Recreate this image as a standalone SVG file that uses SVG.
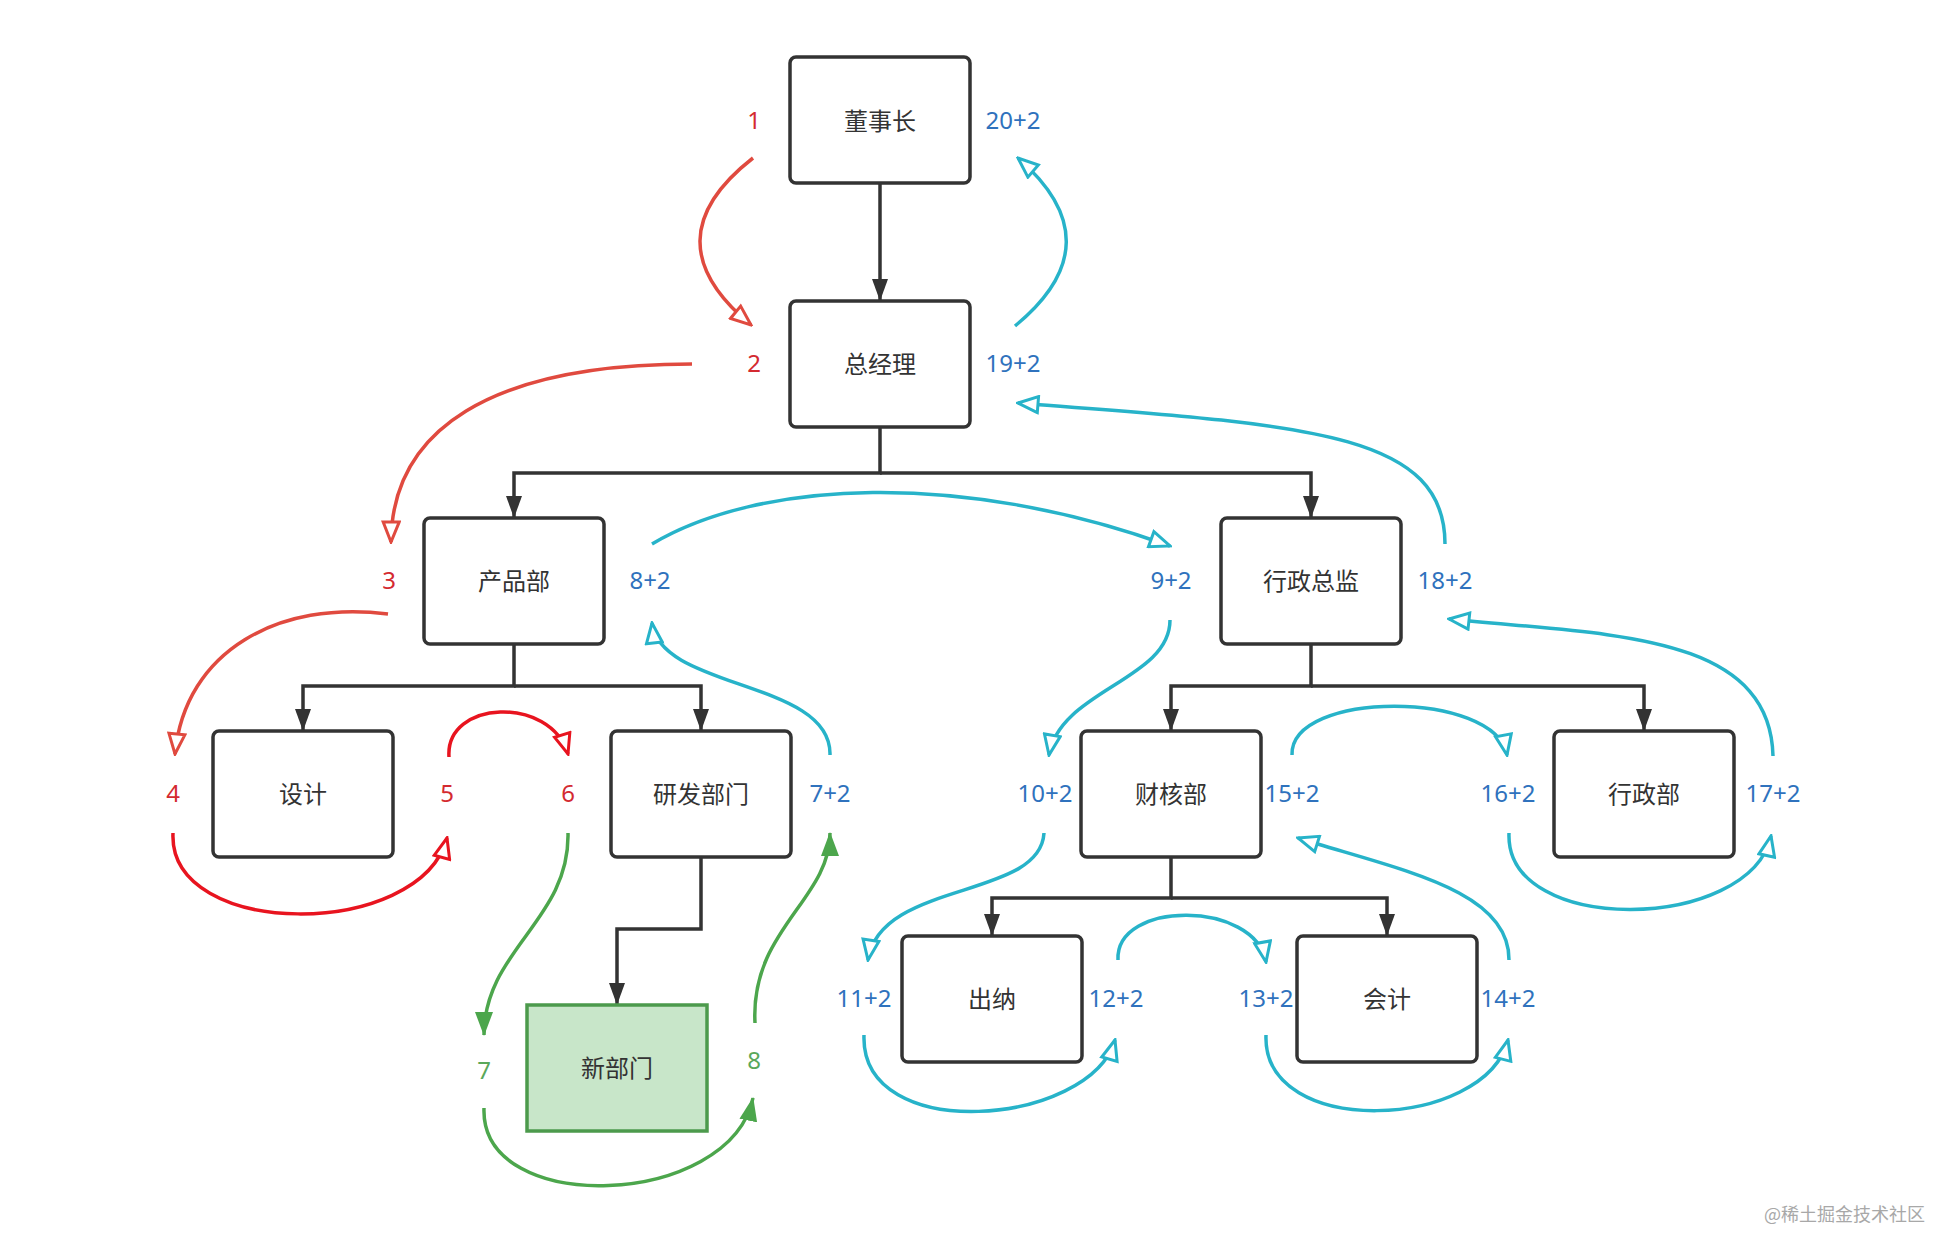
<svg xmlns="http://www.w3.org/2000/svg" width="1956" height="1258" viewBox="0 0 1956 1258">
<style>
.box{fill:#fff;stroke:#333;stroke-width:3.5;}
.newbox{fill:#c8e6c9;stroke:#4c9a4c;stroke-width:3.5;}
.nt{font-family:"Noto Sans CJK SC","Noto Sans",sans-serif;font-size:24px;fill:#333;text-anchor:middle;dominant-baseline:central;}
.lb{font-family:"Noto Sans","Noto Sans CJK SC",sans-serif;font-size:24px;text-anchor:middle;dominant-baseline:central;}
.red{fill:#d42a30;}
.blue{fill:#2f72bd;}
.green{fill:#5aa85a;}
.tree{fill:none;stroke:#333;stroke-width:3.5;marker-end:url(#mBlack);}
.cr{fill:none;stroke:#e04a3f;stroke-width:3.5;marker-end:url(#mRed);}
.cr2{fill:none;stroke:#e8141f;stroke-width:3.5;marker-end:url(#mRed2);}
.cc{fill:none;stroke:#27b3c9;stroke-width:3.5;marker-end:url(#mCyan);}
.cg{fill:none;stroke:#4ca64c;stroke-width:3.5;marker-end:url(#mGreen);}
.wm{font-family:"Noto Sans CJK SC",sans-serif;font-size:18px;fill:#a8a8a8;text-anchor:end;}
</style>
<defs>
<marker id="mBlack" viewBox="0 0 22 18" refX="21" refY="9" markerWidth="22" markerHeight="18" markerUnits="userSpaceOnUse" orient="auto"><path d="M0,1 L22,9 L0,17 z" fill="#333"/></marker>
<marker id="mRed" viewBox="0 0 24 20" refX="22" refY="10" markerWidth="24" markerHeight="20" markerUnits="userSpaceOnUse" orient="auto"><path d="M2,2 L22,10 L2,18 z" fill="#fff" stroke="#e04a3f" stroke-width="3"/></marker>
<marker id="mRed2" viewBox="0 0 24 20" refX="22" refY="10" markerWidth="24" markerHeight="20" markerUnits="userSpaceOnUse" orient="auto"><path d="M2,2 L22,10 L2,18 z" fill="#fff" stroke="#e8141f" stroke-width="3"/></marker>
<marker id="mCyan" viewBox="0 0 24 20" refX="22" refY="10" markerWidth="24" markerHeight="20" markerUnits="userSpaceOnUse" orient="auto"><path d="M2,2 L22,10 L2,18 z" fill="#fff" stroke="#27b3c9" stroke-width="3"/></marker>
<marker id="mGreen" viewBox="0 0 24 20" refX="23" refY="10" markerWidth="24" markerHeight="20" markerUnits="userSpaceOnUse" orient="auto"><path d="M0,1 L24,10 L0,19 z" fill="#4ca64c"/></marker>
</defs>
<rect width="1956" height="1258" fill="#fff"/>

<g id="connectors">
<path class="tree" d="M880,184 V300"/>
<path class="tree" d="M880,427 V473 H514 V517"/>
<path class="tree" d="M880,473 H1311 V517"/>
<path class="tree" d="M514,644 V686 H303 V730"/>
<path class="tree" d="M514,686 H701 V730"/>
<path class="tree" d="M701,856 V929 H617 V1004"/>
<path class="tree" d="M1311,644 V686 H1171 V730"/>
<path class="tree" d="M1311,686 H1644 V730"/>
<path class="tree" d="M1171,856 V898 H992 V935"/>
<path class="tree" d="M1171,898 H1387 V935"/>

<path class="cr" d="M753,158 Q648,240 751,325"/>
<path class="cr" d="M692,364 C490,364 392,430 391,542"/>
<path class="cr" d="M388,614 C280,600 185,650 175,754"/>
<path class="cr2" d="M173,833 C168,940 420,940 447,838"/>
<path class="cr2" d="M449,757 C445,700 550,695 568,754"/>

<path class="cg" d="M568,833 C570,920 484,950 484,1035"/>
<path class="cg" d="M484,1108 C480,1218 730,1208 753,1098"/>
<path class="cg" d="M755,1023 C750,930 830,900 830,833"/>

<path class="cc" d="M830,755 C832,680 660,690 652,623"/>
<path class="cc" d="M652,544 C760,480 960,470 1170,546"/>
<path class="cc" d="M1170,620 C1170,680 1060,690 1049,755"/>
<path class="cc" d="M1044,833 C1040,900 880,880 868,960"/>
<path class="cc" d="M864,1035 C860,1146 1090,1126 1115,1040"/>
<path class="cc" d="M1118,960 C1115,900 1255,900 1266,962"/>
<path class="cc" d="M1266,1035 C1262,1140 1485,1130 1508,1040"/>
<path class="cc" d="M1509,960 C1510,890 1400,870 1298,838"/>
<path class="cc" d="M1292,755 C1290,690 1495,690 1507,755"/>
<path class="cc" d="M1509,833 C1505,937 1750,932 1771,836"/>
<path class="cc" d="M1773,756 C1770,630 1600,635 1449,619"/>
<path class="cc" d="M1445,544 C1445,430 1300,425 1018,403"/>
<path class="cc" d="M1015,326 Q1116,243 1018,158"/>
</g>

<g id="n-chairman"><rect class="box" x="790" y="57" width="180" height="126" rx="6"/><text class="nt" x="880" y="119">董事长</text></g>
<g id="n-gm"><rect class="box" x="790" y="301" width="180" height="126" rx="6"/><text class="nt" x="880" y="362">总经理</text></g>
<g id="n-product"><rect class="box" x="424" y="518" width="180" height="126" rx="6"/><text class="nt" x="514" y="579">产品部</text></g>
<g id="n-admin-dir"><rect class="box" x="1221" y="518" width="180" height="126" rx="6"/><text class="nt" x="1311" y="579">行政总监</text></g>
<g id="n-design"><rect class="box" x="213" y="731" width="180" height="126" rx="6"/><text class="nt" x="303" y="792">设计</text></g>
<g id="n-rd"><rect class="box" x="611" y="731" width="180" height="126" rx="6"/><text class="nt" x="701" y="792">研发部门</text></g>
<g id="n-new"><rect class="newbox" x="527" y="1005" width="180" height="126"/><text class="nt" x="617" y="1066">新部门</text></g>
<g id="n-finance"><rect class="box" x="1081" y="731" width="180" height="126" rx="6"/><text class="nt" x="1171" y="792">财核部</text></g>
<g id="n-admin"><rect class="box" x="1554" y="731" width="180" height="126" rx="6"/><text class="nt" x="1644" y="792">行政部</text></g>
<g id="n-cashier"><rect class="box" x="902" y="936" width="180" height="126" rx="6"/><text class="nt" x="992" y="997">出纳</text></g>
<g id="n-account"><rect class="box" x="1297" y="936" width="180" height="126" rx="6"/><text class="nt" x="1387" y="997">会计</text></g>

<g id="labels">
<text class="lb red" x="754" y="119">1</text>
<text class="lb blue" x="1013" y="119">20+2</text>
<text class="lb red" x="754" y="362">2</text>
<text class="lb blue" x="1013" y="362">19+2</text>
<text class="lb red" x="389" y="579">3</text>
<text class="lb blue" x="650" y="579">8+2</text>
<text class="lb blue" x="1171" y="579">9+2</text>
<text class="lb blue" x="1445" y="579">18+2</text>
<text class="lb red" x="173" y="792">4</text>
<text class="lb red" x="447" y="792">5</text>
<text class="lb red" x="568" y="792">6</text>
<text class="lb blue" x="830" y="792">7+2</text>
<text class="lb blue" x="1045" y="792">10+2</text>
<text class="lb blue" x="1292" y="792">15+2</text>
<text class="lb blue" x="1508" y="792">16+2</text>
<text class="lb blue" x="1773" y="792">17+2</text>
<text class="lb blue" x="864" y="997">11+2</text>
<text class="lb blue" x="1116" y="997">12+2</text>
<text class="lb blue" x="1266" y="997">13+2</text>
<text class="lb blue" x="1508" y="997">14+2</text>
<text class="lb green" x="484" y="1069">7</text>
<text class="lb green" x="754" y="1059">8</text>
</g>
<text class="wm" x="1925" y="1221">@稀土掘金技术社区</text>
</svg>
